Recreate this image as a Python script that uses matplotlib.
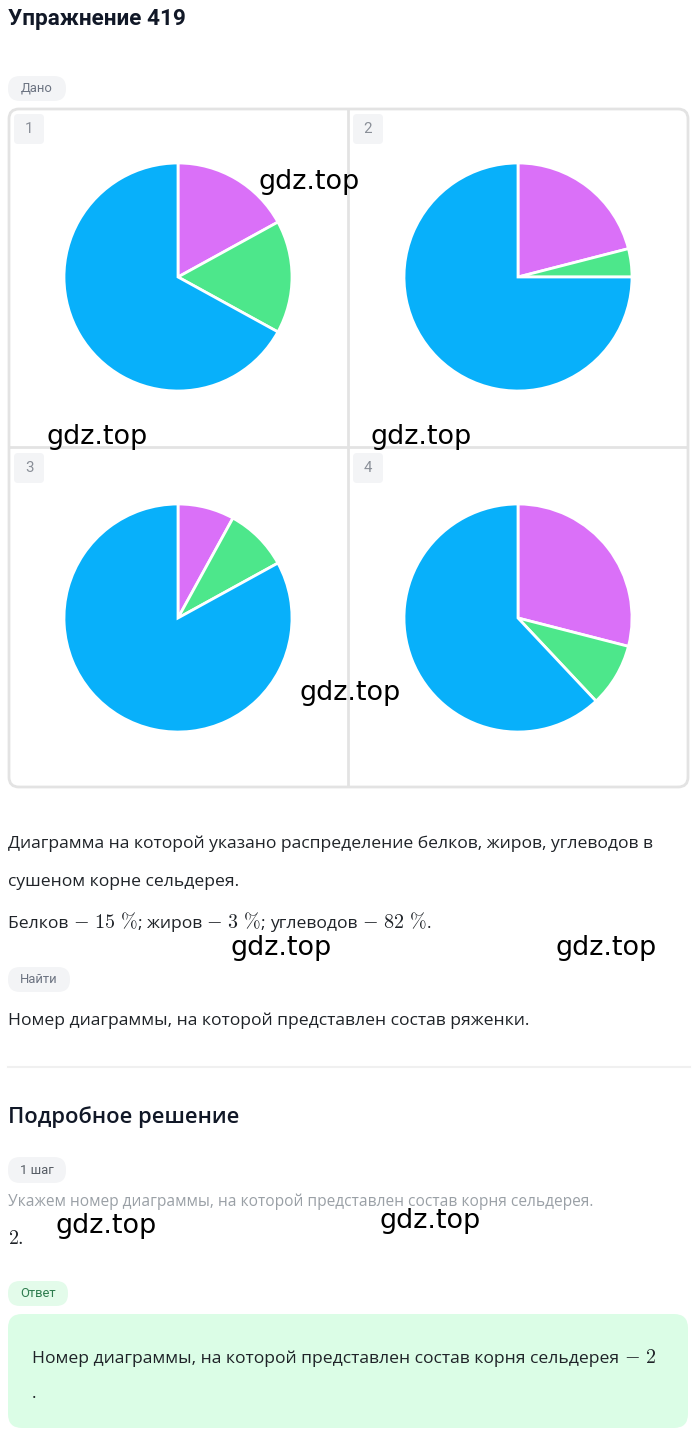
import matplotlib
matplotlib.use("Agg")
import matplotlib.pyplot as plt
from matplotlib.patches import FancyBboxPatch

W, H = 700, 1431
plt.rcParams["font.family"] = ["Open Sans", "DejaVu Sans"]
plt.rcParams["mathtext.fontset"] = "cm"

# pie data (percent, clockwise from 12 o'clock)
diagram_numbers = ["1", "2", "3", "4"]
protein_share = [17, 21, 8, 29]   # purple
fat_share = [16, 4, 9, 9]         # green
carb_share = [67, 75, 83, 62]     # blue
slice_colors = ["#da70f8", "#4de78b", "#08b0fa"]

# given values in the text
given_labels = ["Белков", "жиров", "углеводов"]
given_values = [15, 3, 82]
answer_number = 2

watermark = "gdz.top"
watermark_xy = [(309, 182), (97, 437), (421, 437), (350, 693),
                (281, 948), (606, 948), (106, 1226), (430, 1221)]


def px(v):
    # pixel size -> points at dpi 100
    return v * 0.72


def pill(ax, x, y, w, h, label, face, color):
    ax.add_patch(FancyBboxPatch((x, y), w, h, boxstyle="round,pad=0,rounding_size=12",
                                facecolor=face, edgecolor="none"))
    ax.text(x + w / 2, y + h / 2, label, ha="center", va="center",
            fontsize=px(13), color=color, family=["Roboto"])


def run(ax, x, y, pieces, color):
    # draw text pieces one after another on a common baseline
    r = ax.figure.canvas.get_renderer()
    for s, size in pieces:
        t = ax.text(x, y, s, fontsize=size, color=color, va="baseline", ha="left")
        x += t.get_window_extent(renderer=r).width


fig = plt.figure(figsize=(W / 100, H / 100), dpi=100)
bg = fig.add_axes([0, 0, 1, 1])
bg.set_xlim(0, W)
bg.set_ylim(H, 0)
bg.axis("off")

# header
bg.text(8, 19, "Упражнение 419", fontsize=px(22.5), fontweight="bold",
        color="#111827", ha="left", va="center", family=["Roboto"])
pill(bg, 8, 76, 58, 25, "Дано", "#f3f4f6", "#6b7280")

# grid of diagrams
bg.add_patch(FancyBboxPatch((9, 109), 679, 678, boxstyle="round,pad=0,rounding_size=10",
                            facecolor="white", edgecolor="#e3e3e3", lw=2))
bg.plot([348, 348], [110, 786], color="#e3e3e3", lw=2)
bg.plot([10, 687], [447, 447], color="#e3e3e3", lw=2)

cells = [(10, 110), (349, 110), (10, 449), (349, 449)]
centers = [(178, 277), (518, 277), (178, 618), (518, 618)]
R = 114

for i, num in enumerate(diagram_numbers):
    cx0, cy0 = cells[i]
    bg.add_patch(FancyBboxPatch((cx0 + 4, cy0 + 4), 30, 30, boxstyle="round,pad=0,rounding_size=4",
                                facecolor="#f3f4f6", edgecolor="none"))
    bg.text(cx0 + 19, cy0 + 19, num, ha="center", va="center", fontsize=px(15),
            color="#8a8f98", family=["Roboto"])

    cx, cy = centers[i]
    ax = fig.add_axes([(cx - R) / W, (H - cy - R) / H, 2 * R / W, 2 * R / H])
    ax.pie([protein_share[i], fat_share[i], carb_share[i]], colors=slice_colors,
           startangle=90, counterclock=False, radius=1,
           wedgeprops=dict(edgecolor="white", linewidth=2))
    ax.set_xlim(-1.0, 1.0)
    ax.set_ylim(-1.0, 1.0)
    ax.axis("off")

# problem text
body = "#1f2328"
fs = px(17.5)
ms = px(20)
bg.text(8, 848, "Диаграмма на которой указано распределение белков, жиров, углеводов в",
        fontsize=fs, color=body, va="baseline")
bg.text(8, 886, "сушеном корне сельдерея.", fontsize=fs, color=body, va="baseline")

pieces = []
for k, (lab, val) in enumerate(zip(given_labels, given_values)):
    pieces.append((lab + " ", fs))
    pieces.append((r"$-\ %d\ \%%$" % val, ms))
    pieces.append(("; " if k < len(given_labels) - 1 else ".", fs))
run(bg, 8, 928, pieces, body)

pill(bg, 8, 967, 62, 25, "Найти", "#f3f4f6", "#6b7280")
bg.text(8, 1025, "Номер диаграммы, на которой представлен состав ряженки.",
        fontsize=fs, color=body, va="baseline")

bg.plot([8, 690], [1067, 1067], color="#f0f0f0", lw=1.5)

# solution
bg.text(8, 1117, "Подробное решение", fontsize=px(22), fontweight="semibold",
        color="#111827", va="center")
pill(bg, 8, 1157, 58, 26, "1 шаг", "#f3f4f6", "#555b63")
bg.text(8, 1206, "Укажем номер диаграммы, на которой представлен состав корня сельдерея.",
        fontsize=px(15.5), color="#9aa0a6", va="baseline")
bg.text(8, 1244, r"$%d.$" % answer_number, fontsize=ms, color=body, va="baseline")

pill(bg, 8, 1281, 60, 25, "Ответ", "#e3fbea", "#2f7d4f")
bg.add_patch(FancyBboxPatch((8, 1314), 680, 114, boxstyle="round,pad=0,rounding_size=14",
                            facecolor="#dbfde6", edgecolor="none"))
run(bg, 32, 1363, [("Номер диаграммы, на которой представлен состав корня сельдерея ", fs),
                   (r"$-\ %d$" % answer_number, ms)], body)
bg.text(32, 1398, ".", fontsize=fs, color=body, va="baseline")

# watermarks on top
for wx, wy in watermark_xy:
    fig.text(wx / W, 1 - wy / H, watermark, ha="center", va="center",
             fontsize=px(27), color="black", family=["DejaVu Sans"], zorder=10)

fig.savefig("out.png", dpi=100)
